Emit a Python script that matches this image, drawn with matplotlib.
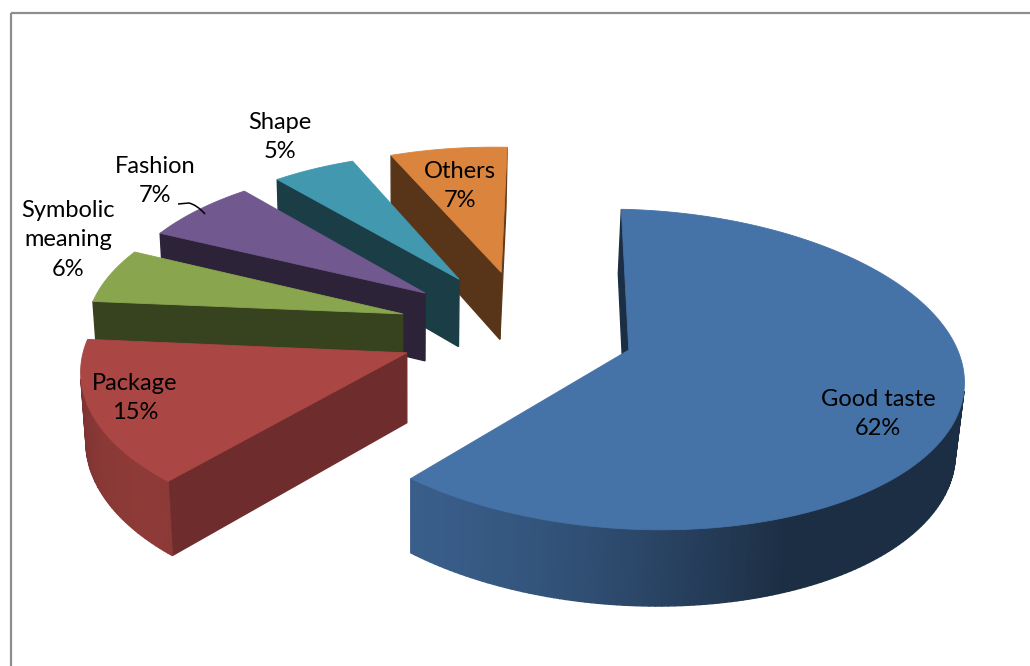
import numpy as np
import matplotlib
matplotlib.use("Agg")
import matplotlib.pyplot as plt
from matplotlib.patches import Polygon, Rectangle, PathPatch
from matplotlib.path import Path

categories = ["Good taste", "Package", "Symbolic\nmeaning", "Fashion", "Shape", "Others"]
shares = [62, 15, 6, 7, 5, 7]
colors = ["#4572A7", "#AA4643", "#89A54E", "#71588F", "#4198AF", "#DB843D"]

# explode distance (fraction of radius) per slice
explode = [0.335, 0.40, 0.40, 0.40, 0.40, 0.40]
# label centres in pixels
label_xy = [(878, 414), (135, 398), (68, 240), (155, 181), (280, 137), (460, 186)]

ELEV = np.radians(28.5)
YAW = np.radians(5)
ROLL = np.radians(1.5)
DIST = 7.4
FOCAL = 2360
CX, CY = 526, 330
DEPTH = 0.25

CAM = np.array([0.0, -DIST * np.cos(ELEV), DIST * np.sin(ELEV)])


def project(x, y, z):
    x, y, z = np.broadcast_arrays(np.asarray(x, float), np.asarray(y, float), np.asarray(z, float))
    yc = y * np.sin(ELEV) + z * np.cos(ELEV)
    zc = DIST + y * np.cos(ELEV) - z * np.sin(ELEV)
    x2 = x * np.cos(YAW) + zc * np.sin(YAW)
    z2 = zc * np.cos(YAW) - x * np.sin(YAW)
    u = FOCAL * (x2 / z2 - np.tan(YAW))
    v = FOCAL * yc / z2
    ur = u * np.cos(ROLL) + v * np.sin(ROLL)
    vr = -u * np.sin(ROLL) + v * np.cos(ROLL)
    return np.column_stack([CX + ur, CY - vr]), z2


def shade(color, k):
    rgb = np.array(matplotlib.colors.to_rgb(color))
    return tuple(np.clip(rgb * k, 0, 1))


def wrap(a):
    return (a + 180) % 360 - 180


def outer_factor(b):
    d = 1.3 * wrap(b - 225)
    return 0.4 + 0.43 * max(0.0, np.cos(np.radians(d))) if abs(d) < 90 else 0.4


def radial_factor(n):
    d = 2 * wrap(n - 320)
    return 0.4 + 0.25 * max(0.0, np.cos(np.radians(d))) if abs(d) < 90 else 0.4


def facing(normal, point):
    return np.dot(normal, CAM - point) > 0


fig = plt.figure(figsize=(10.3, 6.66), dpi=100)
ax = fig.add_axes([0, 0, 1, 1])
ax.set_xlim(0, 1030)
ax.set_ylim(666, 0)
ax.axis("off")

ax.add_patch(Rectangle((10.5, 12.5), 1200, 900, fill=False, edgecolor="#8E8E8E", lw=1.6))

fracs = np.array(shares, float) / sum(shares)
bounds = 90 - 360 * np.concatenate([[0], np.cumsum(fracs)])

slices = []
for i in range(len(shares)):
    a1, a2 = bounds[i], bounds[i + 1]
    mid = np.radians((a1 + a2) / 2)
    ox, oy = explode[i] * np.cos(mid), explode[i] * np.sin(mid)
    slices.append((oy, i, a1, a2, ox))

# paint from the back to the front
for oy, i, a1, a2, ox in sorted(slices, reverse=True):
    col = colors[i]
    n = max(int(abs(a1 - a2)), 4)
    angs = np.linspace(a1, a2, n + 1)
    ax_ = ox + np.cos(np.radians(angs))
    ay_ = oy + np.sin(np.radians(angs))

    faces = []
    # curved outer wall, one strip per step
    for j in range(n):
        bm = np.radians((angs[j] + angs[j + 1]) / 2)
        normal = np.array([np.cos(bm), np.sin(bm), 0])
        pm = np.array([ox + np.cos(bm), oy + np.sin(bm), -DEPTH / 2])
        if not facing(normal, pm):
            continue
        xs = [ax_[j], ax_[j + 1], ax_[j + 1], ax_[j]]
        ys = [ay_[j], ay_[j + 1], ay_[j + 1], ay_[j]]
        zs = [0, 0, -DEPTH, -DEPTH]
        pts, zz = project(xs, ys, zs)
        faces.append((zz.mean(), pts, shade(col, outer_factor(np.degrees(bm) % 360))))

    # radial walls at both cut edges
    for a, sgn in ((a1, 1), (a2, -1)):
        ar = np.radians(a)
        nd = a + 90 * sgn
        normal = np.array([np.cos(np.radians(nd)), np.sin(np.radians(nd)), 0])
        ex, ey = ox + np.cos(ar), oy + np.sin(ar)
        pm = np.array([(ox + ex) / 2, (oy + ey) / 2, -DEPTH / 2])
        if not facing(normal, pm):
            continue
        pts, zz = project([ox, ex, ex, ox], [oy, ey, ey, oy], [0, 0, -DEPTH, -DEPTH])
        faces.append((zz.mean(), pts, shade(col, radial_factor(nd % 360))))

    for _, pts, fc in sorted(faces, key=lambda f: -f[0]):
        ax.add_patch(Polygon(pts, closed=True, facecolor=fc, edgecolor=fc, lw=1.0))

    top, _ = project(np.r_[ox, ax_], np.r_[oy, ay_], 0)
    ax.add_patch(Polygon(top, closed=True, facecolor=col, edgecolor=col, lw=0.6))

for (lx, ly), name, val in zip(label_xy, categories, shares):
    ax.text(lx, ly, f"{name}\n{val}%", ha="center", va="center",
            fontsize=17, family="Lato", linespacing=1.5, color="black")

# leader line for the Fashion label
leader = Path([(178, 204), (189, 203), (197, 205), (205, 214)],
              [Path.MOVETO, Path.LINETO, Path.CURVE3, Path.CURVE3])
ax.add_patch(PathPatch(leader, fill=False, edgecolor="black", lw=1.1))

fig.savefig("out.png", dpi=100)
